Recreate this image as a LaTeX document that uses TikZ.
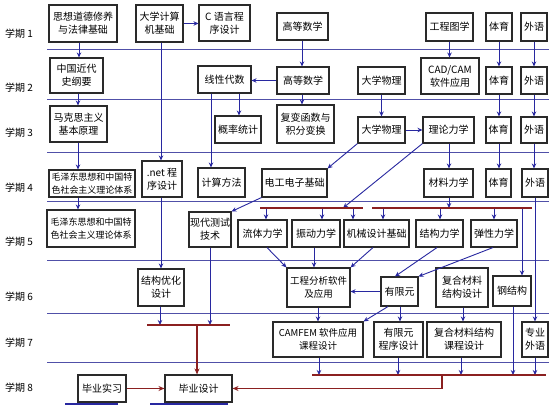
\documentclass[tikz,border=0pt]{standalone}
\usepackage{fontspec}
\setmainfont{Noto Sans CJK SC}
\usetikzlibrary{arrows.meta}
\definecolor{sepc}{HTML}{5050A8}
\definecolor{arrc}{HTML}{2828A0}
\definecolor{barc}{HTML}{8B2020}
\definecolor{boxc}{HTML}{2A2A2A}
\tikzset{
 box/.style={draw=boxc, line width=1.1pt, fill=white, align=center, inner sep=1pt, font=\fontsize{10}{13}\selectfont},
 arr/.style={draw=arrc, line width=0.9pt, -{Stealth[length=5pt,width=4.5pt]}},
 sep/.style={draw=sepc, line width=0.8pt},
 bar/.style={draw=barc, line width=1.8pt},
 rarr/.style={draw=barc, line width=1.3pt, -{Stealth[length=6pt,width=5pt]}},
 lbl/.style={font=\fontsize{10}{12}\selectfont, anchor=west, inner sep=0pt},
 ulin/.style={draw=arrc, line width=2pt},
}
\newcommand{\bx}[7][]{\node[box,#1, minimum width={(#5-#3)*1pt}, minimum height={(#6-#4)*1pt}] (#2) at ({(#3+#5)/2},{(#4+#6)/2}) {#7};}
\begin{document}
\begin{tikzpicture}[x=1pt,y=-1pt]
\useasboundingbox[fill=white] (0,0) rectangle (555,406);
% x-coordinates for connectors
\foreach \x in {78,79,160,161,197,210,211,239,266,267,302,314,318,319,322,343,353,373,383,388,395,398,400,437,440,442,449,461,463,493,494,499,513,522,534,535}
  \coordinate (x\x) at (\x,0);
% semester separators
\foreach \y in {49,99,152,201,260,313,362}
  \draw[sep] (47,\y) -- (549,\y);
% labels
\node[lbl] (l1) at (5,34) {学期 1};
\node[lbl] (l2) at (5,88) {学期 2};
\node[lbl] (l3) at (5,133) {学期 3};
\node[lbl] (l4) at (5,188) {学期 4};
\node[lbl] (l5) at (5,242) {学期 5};
\node[lbl] (l6) at (5,297) {学期 6};
\node[lbl] (l7) at (5,343) {学期 7};
\node[lbl] (l8) at (5,388) {学期 8};
% row 1
\bx{szdd}{49}{5}{117}{42}{思想道德修养\\与法律基础}
\bx{dxjsj}{136}{5}{183}{42}{大学计算\\机基础}
\bx{cyy}{199}{5}{250}{41}{C 语言程\\序设计}
\bx{gdsx1}{277}{13}{328}{40}{高等数学}
\bx{gctx}{426}{13}{473}{41}{工程图学}
\bx{ty1}{486}{13}{512}{41}{体育}
\bx{wy1}{521}{13}{547}{41}{外语}
% row 2
\bx{zgjd}{50}{58}{103}{93}{中国近代\\史纲要}
\bx{xxds}{198}{66}{251}{93}{线性代数}
\bx{gdsx2}{277}{67}{329}{94}{高等数学}
\bx{dxwl2}{358}{67}{405}{94}{大学物理}
\bx{cad}{421}{58}{479}{94}{CAD/CAM\\软件应用}
\bx{ty2}{486}{67}{512}{94}{体育}
\bx{wy2}{521}{67}{547}{94}{外语}
% row 3
\bx{mks}{50}{106}{107}{142}{马克思主义\\基本原理}
\bx{gltj}{215}{116}{261}{143}{概率统计}
\bx{fbhs}{277}{105}{334}{143}{复变函数与\\积分变换}
\bx{dxwl3}{358}{117}{405}{143}{大学物理}
\bx{llx}{423}{117}{474}{143}{理论力学}
\bx{ty3}{486}{117}{511}{143}{体育}
\bx{wy3}{521}{117}{547}{143}{外语}
% row 4
\bx[font=\fontsize{9}{13}\selectfont]{mzd4}{49}{170}{135}{197}{毛泽东思想和中国特\\色社会主义理论体系}
\bx{net}{142}{161}{182}{197}{.net 程\\序设计}
\bx{jsff}{198}{168}{245}{197}{计算方法}
\bx{dgdz}{262}{169}{327}{197}{电工电子基础}
\bx{cllx}{424}{169}{473}{197}{材料力学}
\bx{ty4}{486}{169}{511}{197}{体育}
\bx{wy4}{522}{169}{548}{197}{外语}
% row 5
\bx[font=\fontsize{9}{13}\selectfont]{mzd5}{47}{210}{135}{247}{毛泽东思想和中国特\\色社会主义理论体系}
\bx{xdcs}{189}{212}{231}{247}{现代测试\\技术}
\bx{ltlx}{238}{220}{287}{247}{流体力学}
\bx{zdlx}{292}{220}{340}{247}{振动力学}
\bx{jxsj}{344}{220}{409}{247}{机械设计基础}
\bx{jglx}{416}{220}{463}{247}{结构力学}
\bx{txlx}{471}{220}{517}{247}{弹性力学}
% row 6
\bx{jgyh}{138}{269}{184}{306}{结构优化\\设计}
\bx[font=\fontsize{9.5}{13}\selectfont]{gcfx}{287}{268}{350}{307}{工程分析软件\\及应用}
\bx{yxy}{381}{277}{418}{306}{有限元}
\bx{fhcl}{436}{268}{488}{307}{复合材料\\结构设计}
\bx{gjg}{493}{276}{531}{306}{钢结构}
% row 7
\bx[font=\fontsize{9.5}{13}\selectfont]{camfem}{273}{322}{363}{357}{CAMFEM 软件应用\\课程设计}
\bx{yxycx}{374}{322}{423}{357}{有限元\\程序设计}
\bx{fhclkc}{427}{322}{501}{357}{复合材料结构\\课程设计}
\bx{zywy}{522}{322}{548}{357}{专业\\外语}
% row 8
\bx{bysx}{78}{375}{126}{402}{毕业实习}
\bx{bysj}{165}{375}{232}{402}{毕业设计}
% bar coordinates
\coordinate (b5a1) at (260,208);
\coordinate (b5a2) at (363,208);
\coordinate (b5b1) at (372,208);
\coordinate (b5b2) at (532,208);
\coordinate (b7a) at (147,325);
\coordinate (b7b) at (230,325);
\coordinate (b8a) at (312,375);
\coordinate (b8b) at (546,375);
\coordinate (b5ain) at (343,208);
\coordinate (b8mid) at (442,375);
% blue connectors
\draw[arr] (szdd.south -| x79) -- (zgjd.north -| x79);
\draw[arr] (zgjd.south -| x78) -- (mks.north -| x78);
\draw[arr] (mks.south -| x78) -- (mzd4.north -| x78);
\draw[arr] (mzd4.south -| x78) -- (mzd5.north -| x78);
\draw[arr] (dxjsj.east) -- (cyy.west |- dxjsj.east);
\draw[arr] (dxjsj.south -| x161) -- (net.north -| x161);
\draw[arr] (net.south -| x161) -- (jgyh.north -| x161);
\draw[arr] (gdsx1.south -| x302) -- (gdsx2.north -| x302);
\draw[arr] (gdsx2.west) -- (xxds.east |- gdsx2.west);
\draw[arr] (gdsx2.south -| x302) -- (fbhs.north -| x302);
\draw[arr] (xxds.south -| x239) -- (gltj.north -| x239);
\draw[arr] (xxds.south -| x211) -- (jsff.north -| x211);
\draw[arr] (gctx.south) -- (cad.north -| gctx.south);
\draw[arr] (dxwl2.south) -- (dxwl3.north);
\draw[arr] (dxwl3.east) -- (llx.west |- dxwl3.east);
\draw[arr] (dxwl3.south west) -- (dgdz.north east);
\draw[arr] (llx.south -| x449) -- (cllx.north -| x449);
\draw[arr] (llx.south west) -- (b5ain);
\draw[arr] (ty1.south -| x499) -- (ty2.north -| x499);
\draw[arr] (ty2.south -| x499) -- (ty3.north -| x499);
\draw[arr] (ty3.south -| x499) -- (ty4.north -| x499);
\draw[arr] (wy1.south -| x534) -- (wy2.north -| x534);
\draw[arr] (wy2.south -| x534) -- (wy3.north -| x534);
\draw[arr] (wy3.south -| x534) -- (wy4.north -| x534);
\draw[arr] (wy4.south -| x535) -- (zywy.north -| x535);
\draw[arr] (cllx.south -| x449) -- (x449 |- b5b1);
\draw[arr] (dgdz.south west) -- (xdcs.north east);
\draw[arr] (x266 |- b5a1) -- (x266 |- ltlx.north);
\draw[arr] (x322 |- b5a1) -- (x322 |- zdlx.north);
\draw[arr] (x353 |- b5a1) -- (x353 |- jxsj.north);
\draw[arr] (x383 |- b5b1) -- (x383 |- jxsj.north);
\draw[arr] (x440 |- b5b1) -- (x440 |- jglx.north);
\draw[arr] (x494 |- b5b1) -- (x494 |- txlx.north);
\draw[arr] (x522 |- b5b1) -- (x522 |- gjg.north);
\draw[arr] (ltlx.south -| x267) -- (gcfx.north west);
\draw[arr] (zdlx.south -| x314) -- (gcfx.north -| x314);
\draw[arr] (jxsj.south -| x373) -- (gcfx.north east);
\draw[arr] (jglx.south -| x437) -- (yxy.north -| x395);
\draw[arr] (txlx.south -| x493) -- (yxy.north east);
\draw[arr] (yxy.west) -- (gcfx.east |- yxy.west);
\draw[arr] (gcfx.south -| x318) -- (camfem.north -| x318);
\draw[arr] (yxy.south -| x388) -- (camfem.north east);
\draw[arr] (yxy.south -| x400) -- (yxycx.north -| x400);
\draw[arr] (fhcl.south -| x463) -- (fhclkc.north -| x463);
\draw[arr] (gjg.south -| x513) -- (x513 |- b8a);
\draw[arr] (camfem.south -| x319) -- (x319 |- b8a);
\draw[arr] (yxycx.south -| x398) -- (x398 |- b8a);
\draw[arr] (fhclkc.south -| x461) -- (x461 |- b8a);
\draw[arr] (zywy.south -| x535) -- (x535 |- b8a);
\draw[arr] (xdcs.south -| x210) -- (x210 |- b7a);
\draw[arr] (jgyh.south -| x160) -- (x160 |- b7a);
% red bars
\draw[bar] (b5a1) -- (b5a2);
\draw[bar] (b5b1) -- (b5b2);
\draw[bar] (b7a) -- (b7b);
\draw[bar] (b8a) -- (b8b);
% red connectors
\draw[rarr] (x197 |- b7a) -- (bysj.north -| x197);
\draw[rarr] (b8mid) |- (bysj.east);
\draw[rarr] (bysx.east) -- (bysj.west);
% bottom underlines
\draw[ulin] (65,404) -- (118,404);
\draw[ulin] (150,404) -- (228,404);
\end{tikzpicture}
\end{document}
